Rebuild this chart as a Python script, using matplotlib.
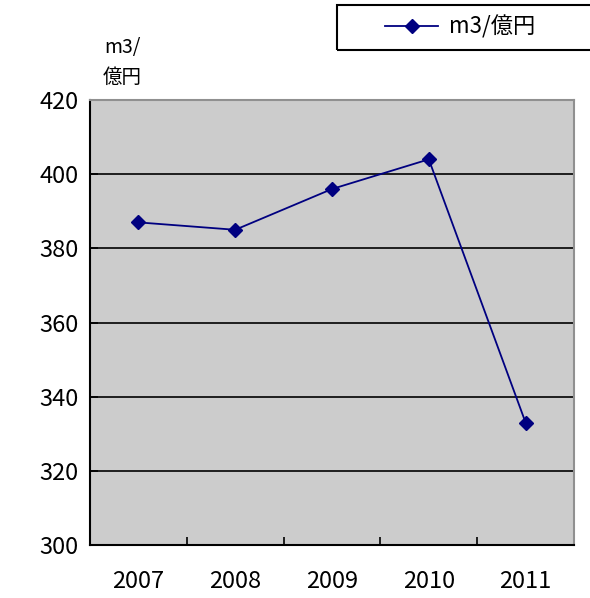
import matplotlib
matplotlib.use("Agg")
import matplotlib.pyplot as plt
from matplotlib.patches import Rectangle

plt.rcParams["font.family"] = ["Noto Sans CJK JP", "DejaVu Sans"]

# ── Data ─────────────────────────────────────────────────────────────────────

years  = ["2007", "2008", "2009", "2010", "2011"]
values = [387, 385, 396, 404, 333]
series_name = "m3/億円"
y_ticks = [300, 320, 340, 360, 380, 400, 420]

# ── Figure ───────────────────────────────────────────────────────────────────

W, H = 590, 598
fig = plt.figure(figsize=(W / 100, H / 100), dpi=100)
ax = fig.add_axes([90 / W, 1 - 545 / H, (574 - 90) / W, (545 - 100) / H])
ax.set_facecolor("#cccccc")

x = list(range(len(years)))
line, = ax.plot(x, values, color="#000080", lw=1.3, marker="D", ms=7.5,
                label=series_name, zorder=3)

ax.set_xlim(-0.5, len(years) - 0.5)
ax.set_ylim(y_ticks[0], y_ticks[-1])

# gridlines (black) for the inner ticks
for yv in y_ticks[1:-1]:
    ax.axhline(yv, color="black", lw=1.2, zorder=1)

ax.set_yticks(y_ticks)
ax.set_yticklabels([str(v) for v in y_ticks], fontsize=17)
ax.set_xticks(x)
ax.set_xticklabels(years, fontsize=17)
ax.tick_params(axis="x", length=0, pad=18)
ax.set_xticks([i + 0.5 for i in x], minor=True)
ax.tick_params(axis="x", which="minor", direction="in", length=6, width=1.2, color="black")
ax.tick_params(axis="y", direction="in", length=6, width=1.2, pad=8, color="black")

for side in ("left", "bottom"):
    ax.spines[side].set_color("black")
    ax.spines[side].set_linewidth(1.5)
for side in ("top", "right"):
    ax.spines[side].set_color("#909090")
    ax.spines[side].set_linewidth(1.5)

# y unit label
fig.text(122 / W, 1 - 48 / H, "m3/", fontsize=14, ha="center", va="center")
fig.text(122 / W, 1 - 77 / H, "億円", fontsize=14, ha="center", va="center")

# legend box
fig.patches.append(Rectangle((337 / W, 1 - 50 / H), 0.6, 45 / H,
                             transform=fig.transFigure, fill=False,
                             edgecolor="black", lw=1.5))
fig.legend(handles=[line], loc="center left", bbox_to_anchor=(385 / W, 1 - 27 / H),
           frameon=False, fontsize=16, handlelength=2.4, handletextpad=0.5,
           borderpad=0, borderaxespad=0)

fig.savefig("out.png", dpi=100)
